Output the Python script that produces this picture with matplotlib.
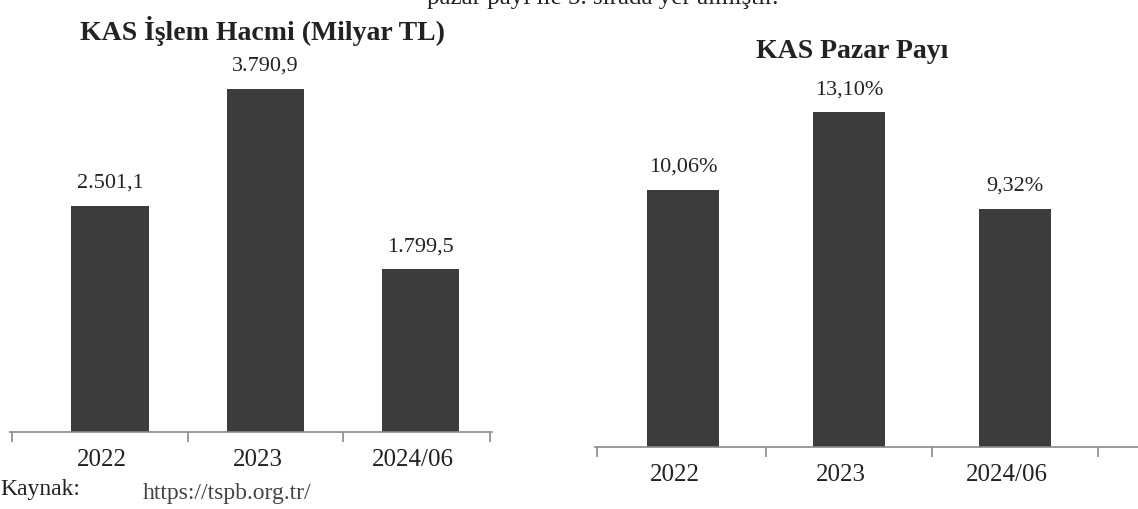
import matplotlib.pyplot as plt
import numpy as np

plt.rcParams['font.family'] = ['Liberation Serif', 'DejaVu Serif']

years = ['2022', '2023', '2024/06']
hacim = [2501.1, 3790.9, 1799.5]
hacim_lbl = ['2.501,1', '3.790,9', '1.799,5']
pay = [10.06, 13.10, 9.32]
pay_lbl = ['10,06%', '13,10%', '9,32%']

bar_col = '#3c3c3c'

fig = plt.figure(figsize=(11.38, 5.09), dpi=100)

def panel(rect, vals, lbls, ymax, xlim, bw, title, title_x, title_y):
    ax = fig.add_axes(rect)
    x = np.arange(len(vals))
    ax.bar(x, vals, width=bw, color=bar_col)
    for xi, v, t in zip(x, vals, lbls):
        ax.text(xi, v + ymax * 0.035, t, ha='center', va='bottom', fontsize=16, color='#222222')
    ax.set_xlim(*xlim)
    ax.set_ylim(0, ymax)
    for s in ['top', 'right', 'left']:
        ax.spines[s].set_visible(False)
    ax.spines['bottom'].set_color('#8a8a8a')
    ax.spines['bottom'].set_linewidth(1.2)
    ax.set_yticks([])
    ax.set_xticks([xlim[0] + 0.01, 0.5, 1.5, min(2.5, xlim[1] - 0.01)])
    ax.set_xticklabels([])
    ax.set_xticks(x - 0.05, minor=True)
    ax.set_xticklabels(years, minor=True, fontsize=18, color='#222222')
    ax.tick_params(axis='x', which='major', length=7, color='#8a8a8a', width=1.2)
    ax.tick_params(axis='x', which='minor', length=0, pad=12)
    fig.text(title_x, title_y, title, ha='center', va='center', fontsize=20,
             fontweight='bold', color='#222222')
    return ax

# left: islem hacmi
panel([10/1138, 1 - 432/509, 482/1138, 372/509], hacim, hacim_lbl, 4110,
      (-0.645, 2.46), 0.5, 'KAS İşlem Hacmi (Milyar TL)', 262/1138, 1 - 31/509)
# right: pazar payi
panel([595/1138, 1 - 447/509, 543/1138, 372/509], pay, pay_lbl, 14.55,
      (-0.53, 2.74), 0.43, 'KAS Pazar Payı', 852/1138, 1 - 52/509)

# clipped document text around the charts
fig.text(0.375, 1 + 2/509, 'pazar payı ile 5. sırada yer almıştır.', ha='left', va='center',
         fontsize=18, color='#222222')
fig.text(0.0, 1 - 490/509, 'Kaynak:', ha='left', va='center', fontsize=17, color='#222222')
fig.text(143/1138, 1 - 494/509, 'https://tspb.org.tr/', ha='left', va='center', fontsize=17,
         color='#444444')

fig.savefig('out.png', dpi=100)
